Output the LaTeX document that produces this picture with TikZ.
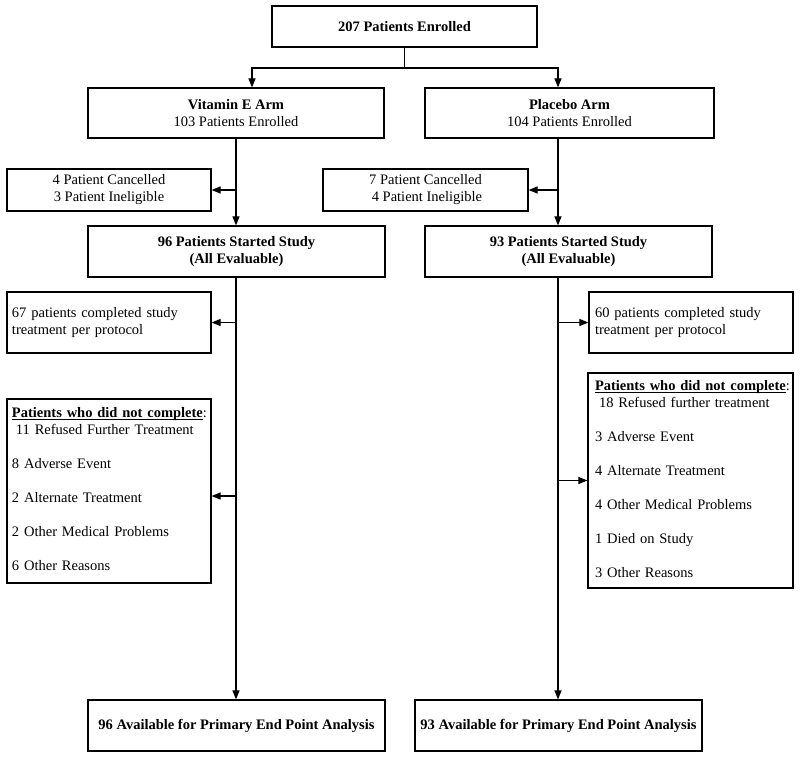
\documentclass[tikz,border=0pt]{standalone}
\usepackage{fontspec}
\setmainfont{Liberation Serif}
\usetikzlibrary{arrows.meta}
\newcommand\headul[1]{\underline{\smash{#1}}}
\begin{document}
\begin{tikzpicture}[x=1pt,y=-1pt,
  box/.style={draw, line width=1.2pt, inner sep=0pt, align=center, font=\fontsize{14.5}{17}\selectfont},
  lbox/.style={draw, line width=1.2pt, inner ysep=0pt, align=left, font=\fontsize{14.5}{17}\selectfont},
  arr/.style={line width=1.1pt, -{Triangle[length=9pt,width=7pt]}},
  ln/.style={line width=1.1pt}]
\useasboundingbox (0,0) rectangle (800,758);
% column coordinates
\coordinate (xl) at (236,0);
\coordinate (xr) at (558,0);
\coordinate (br) at (404.5,68);
% nodes
\node[box, minimum width=265pt, minimum height=41pt] (top) at (404.5,26.5) {\textbf{207 Patients Enrolled}};
\node[box, minimum width=296pt, minimum height=50pt] (vit) at (236,113) {\textbf{Vitamin E Arm}\\103 Patients Enrolled};
\node[box, minimum width=289pt, minimum height=50pt] (plac) at (569.5,113) {\textbf{Placebo Arm}\\104 Patients Enrolled};
\node[box, minimum width=204pt, minimum height=42pt] (cancL) at (109,190) {4 Patient Cancelled\\3 Patient Ineligible};
\node[box, minimum width=205pt, minimum height=42pt] (cancR) at (425.5,190) {7 Patient Cancelled\\\hspace*{3pt}4 Patient Ineligible};
\node[box, minimum width=297pt, minimum height=51pt] (startL) at (236.5,251.5) {\textbf{96 Patients Started Study}\\\textbf{(All Evaluable)}};
\node[box, minimum width=287pt, minimum height=51pt] (startR) at (568.5,251.5) {\textbf{93 Patients Started Study}\\\textbf{(All Evaluable)}};
\node[lbox, inner xsep=5pt, text width=194pt, minimum height=61pt] (compL) at (109,322.5) {67 patients completed study\\treatment per protocol};
\node[lbox, inner xsep=6pt, text width=192pt, minimum height=61pt] (compR) at (691,322.5) {60 patients completed study\\treatment per protocol};
\node[lbox, inner xsep=5pt, text width=194pt, minimum height=184pt] (ncL) at (109,491) {\headul{\textbf{Patients who did not complete}}:\\
\hspace*{4pt}11 Refused Further Treatment\\[17pt]
8 Adverse Event\\[17pt]
2 Alternate Treatment\\[17pt]
2 Other Medical Problems\\[17pt]
6 Other Reasons};
\node[lbox, inner xsep=7pt, text width=191pt, minimum height=215pt] (ncR) at (690.5,480.5) {\headul{\textbf{Patients who did not complete}}:\\
\hspace*{4pt}18 Refused further treatment\\[17pt]
3 Adverse Event\\[17pt]
4 Alternate Treatment\\[17pt]
4 Other Medical Problems\\[17pt]
1 Died on Study\\[17pt]
3 Other Reasons};
\node[box, minimum width=297pt, minimum height=51pt] (endL) at (236.5,725.5) {\textbf{96 Available for Primary End Point Analysis}};
\node[box, minimum width=287pt, minimum height=51pt] (endR) at (558.5,725.5) {\textbf{93 Available for Primary End Point Analysis}};
% connectors
\draw[ln] (top.south) -- (br);
\draw[arr] (br) -| ([xshift=16pt]vit.north);
\draw[arr] (br) -| (plac.north -| xr);
\draw[arr] (vit.south) -- (vit.south |- startL.north);
\draw[arr] (plac.south -| xr) -- (startR.north -| xr);
\draw[arr] (vit.south |- cancL.east) -- (cancL.east);
\draw[arr] (xr |- cancR.east) -- (cancR.east);
\draw[arr] (startL.south -| xl) -- (endL.north -| xl);
\draw[arr] (startR.south -| xr) -- (endR.north -| xr);
\draw[arr] (xl |- compL.east) -- (compL.east);
\draw[arr] (xr |- compR.west) -- (compR.west);
\draw[arr] ([yshift=-5pt]ncL.east -| xl) -- ([yshift=-5pt]ncL.east);
\draw[arr] (xr |- ncR.west) -- (ncR.west);
\end{tikzpicture}
\end{document}
